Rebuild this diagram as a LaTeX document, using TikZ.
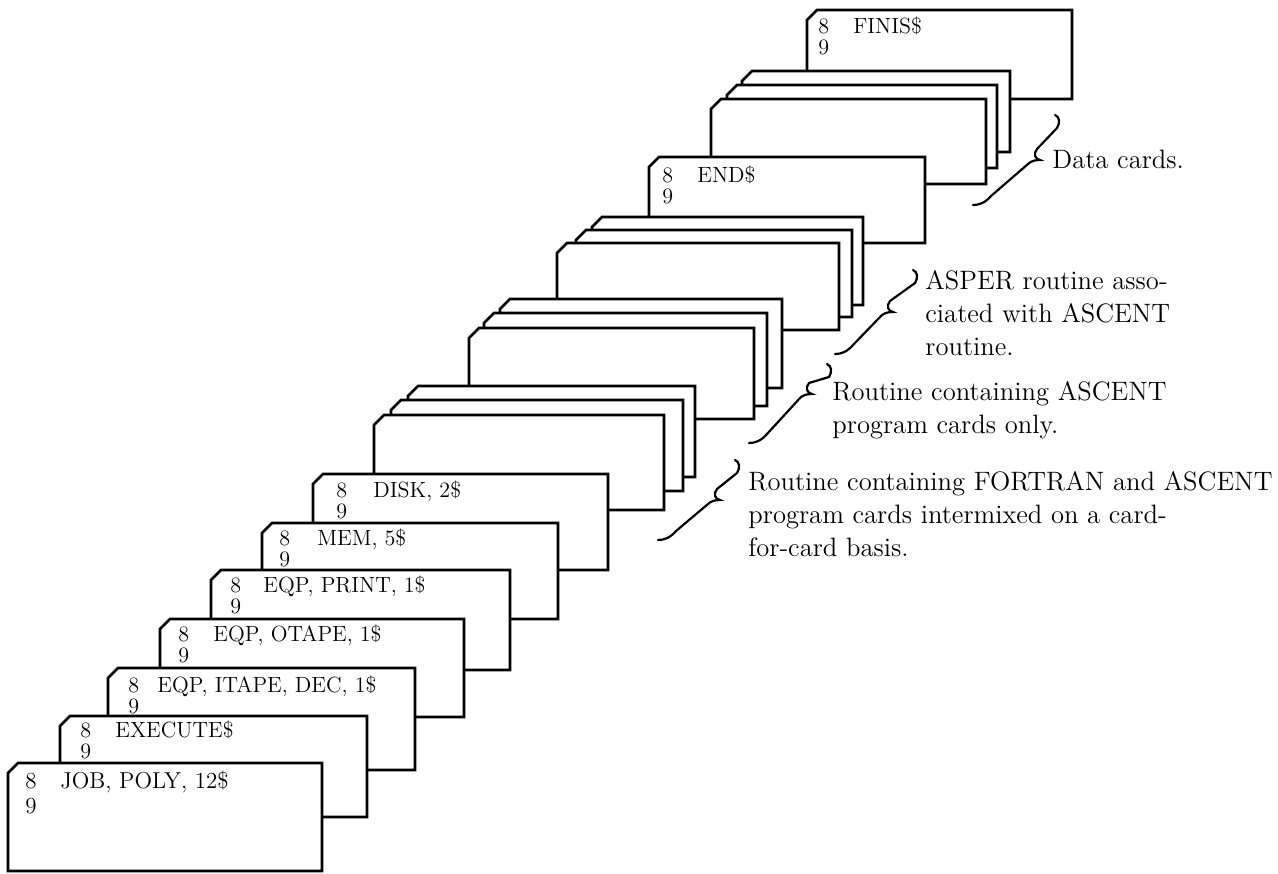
\documentclass[tikz,border=0pt]{standalone}
\usetikzlibrary{calc}
\newcommand{\rows}[1]{\begin{tabular}[t]{@{}l@{}}#1\end{tabular}}

\begin{document}
\begin{tikzpicture}[x=0.5pt,y=-0.5pt,
  card/.style={draw,fill=white,line width=1.3pt},
  punch/.style={font=\fontsize{11}{10.5}\selectfont,inner sep=0pt,anchor=base west},
  note/.style={font=\fontsize{13.3}{16.5}\selectfont,inner sep=0pt,anchor=base west},
  curly/.style={line width=1.1pt,line cap=round}]
\useasboundingbox (0,0) rectangle (1278,873);
% deck, drawn from the back card to the front card
\draw[card] (807,20) -- (817,10) -- (1072,10) -- (1072,99) -- (807,99) -- cycle;
\node[punch] (finisrow) at (818,33) {\rows{8\\9}};
\node[punch] (finis) at (853,33) {FINIS\$};
% data cards
\draw[card] (742,81) -- (752,71) -- (1010,71) -- (1010,152) -- (742,152) -- cycle;
\draw[card] (727,95) -- (737,85) -- (997,85) -- (997,168) -- (727,168) -- cycle;
\draw[card] (711,109) -- (721,99) -- (986,99) -- (986,184) -- (711,184) -- cycle;
\draw[card] (649,167) -- (659,157) -- (925,157) -- (925,243) -- (649,243) -- cycle;
\node[punch] (endrow) at (662,182) {\rows{8\\9}};
\node[punch] (end) at (697,182) {END\$};
% ASPER routine
\draw[card] (592,227) -- (602,217) -- (863,217) -- (863,305) -- (592,305) -- cycle;
\draw[card] (576,240) -- (586,230) -- (852,230) -- (852,317) -- (576,317) -- cycle;
\draw[card] (557,253) -- (567,243) -- (839,243) -- (839,330) -- (557,330) -- cycle;
% ASCENT routine
\draw[card] (500,309) -- (510,299) -- (782,299) -- (782,388) -- (500,388) -- cycle;
\draw[card] (484,323) -- (494,313) -- (767,313) -- (767,406) -- (484,406) -- cycle;
\draw[card] (469,338) -- (479,328) -- (754,328) -- (754,419) -- (469,419) -- cycle;
% FORTRAN and ASCENT routine
\draw[card] (408,396) -- (418,386) -- (695,386) -- (695,477) -- (408,477) -- cycle;
\draw[card] (391,410) -- (401,400) -- (683,400) -- (683,491) -- (391,491) -- cycle;
\draw[card] (374,425) -- (384,415) -- (664,415) -- (664,510) -- (374,510) -- cycle;
% control cards
\draw[card] (313,484) -- (323,474) -- (608,474) -- (608,570) -- (313,570) -- cycle;
\node[punch] (diskrow) at (336,497) {\rows{8\\9}};
\node[punch] (disk) at (373,497) {DISK, 2\$};
\draw[card] (262,533) -- (272,523) -- (558,523) -- (558,619) -- (262,619) -- cycle;
\node[punch] (memrow) at (279,545) {\rows{8\\9}};
\node[punch] (mem) at (317,545) {MEM, 5\$};
\draw[card] (211,580) -- (221,570) -- (510,570) -- (510,670) -- (211,670) -- cycle;
\node[punch] (printrow) at (230,592) {\rows{8\\9}};
\node[punch] (print) at (263,592) {EQP, PRINT, 1\$};
\draw[card] (160,629) -- (170,619) -- (464,619) -- (464,717) -- (160,717) -- cycle;
\node[punch] (otaperow) at (178,641) {\rows{8\\9}};
\node[punch] (otape) at (213,641) {EQP, OTAPE, 1\$};
\draw[card] (108,678) -- (118,668) -- (415,668) -- (415,770) -- (108,770) -- cycle;
\node[punch] (itaperow) at (128,692) {\rows{8\\9}};
\node[punch] (itape) at (157,692) {EQP, ITAPE, DEC, 1\$};
\draw[card] (60,726) -- (70,716) -- (367,716) -- (367,817) -- (60,817) -- cycle;
\node[punch] (executerow) at (80,737) {\rows{8\\9}};
\node[punch] (execute) at (115,737) {EXECUTE\$};
\draw[card] (8,773) -- (18,763) -- (322,763) -- (322,871) -- (8,871) -- cycle;
\node[punch,font=\fontsize{11.5}{12.5}\selectfont] (jobrow) at (25,788) {\rows{8\\9}};
\node[punch,font=\fontsize{11.5}{12.5}\selectfont] (job) at (60,788) {JOB, POLY, 12\$};
% notes
\node[note] (datanote) at (1052,168) {Data cards.};
\node[note] (aspernote) at (925,289) {\rows{ASPER routine asso-\\ciated with ASCENT\\routine.}};
\node[note] (ascentnote) at (832,400) {\rows{Routine containing ASCENT\\program cards only.}};
\node[note] (fortrannote) at (748,490) {\rows{Routine containing FORTRAN and ASCENT\\program cards intermixed on a card-\\for-card basis.}};
% braces
\coordinate (datatop) at (1055,115);
\coordinate (datatip) at (1040,160);
\coordinate (databot) at (973,205);
\coordinate (aspertop) at (913,270);
\coordinate (aspertip) at (893,312);
\coordinate (asperbot) at (835,354);
\coordinate (ascenttop) at (827,364);
\coordinate (ascenttip) at (812,394);
\coordinate (ascentbot) at (749,443);
\coordinate (fortrantop) at (735,460);
\coordinate (fortrantip) at (720,500);
\coordinate (fortranbot) at (658,540);
\draw[curly] (datatop) .. controls ($(datatop)+(5,2)$) and ($(datatop)+(5,8)$) .. ($(datatop)+(2,13)$)
  -- ($(datatip)+(-3,-11)$) .. controls ($(datatip)+(-7,-6)$) and ($(datatip)+(-5,-1)$) .. (datatip)
  .. controls ($(datatip)+(-5,0)$) and ($(datatip)+(-9,1)$) .. ($(datatip)+(-12,4)$)
  -- ($(databot)+(18,-9)$) .. controls ($(databot)+(12,-2)$) and ($(databot)+(6,0)$) .. (databot);
\draw[curly] (aspertop) .. controls ($(aspertop)+(5,2)$) and ($(aspertop)+(5,8)$) .. ($(aspertop)+(2,13)$)
  -- ($(aspertip)+(-3,-11)$) .. controls ($(aspertip)+(-7,-6)$) and ($(aspertip)+(-5,-1)$) .. (aspertip)
  .. controls ($(aspertip)+(-5,0)$) and ($(aspertip)+(-9,1)$) .. ($(aspertip)+(-12,4)$)
  -- ($(asperbot)+(18,-9)$) .. controls ($(asperbot)+(12,-2)$) and ($(asperbot)+(6,0)$) .. (asperbot);
\draw[curly] (ascenttop) .. controls ($(ascenttop)+(5,2)$) and ($(ascenttop)+(5,8)$) .. ($(ascenttop)+(2,13)$)
  -- ($(ascenttip)+(-3,-11)$) .. controls ($(ascenttip)+(-7,-6)$) and ($(ascenttip)+(-5,-1)$) .. (ascenttip)
  .. controls ($(ascenttip)+(-5,0)$) and ($(ascenttip)+(-9,1)$) .. ($(ascenttip)+(-12,4)$)
  -- ($(ascentbot)+(18,-9)$) .. controls ($(ascentbot)+(12,-2)$) and ($(ascentbot)+(6,0)$) .. (ascentbot);
\draw[curly] (fortrantop) .. controls ($(fortrantop)+(5,2)$) and ($(fortrantop)+(5,8)$) .. ($(fortrantop)+(2,13)$)
  -- ($(fortrantip)+(-3,-11)$) .. controls ($(fortrantip)+(-7,-6)$) and ($(fortrantip)+(-5,-1)$) .. (fortrantip)
  .. controls ($(fortrantip)+(-5,0)$) and ($(fortrantip)+(-9,1)$) .. ($(fortrantip)+(-12,4)$)
  -- ($(fortranbot)+(18,-9)$) .. controls ($(fortranbot)+(12,-2)$) and ($(fortranbot)+(6,0)$) .. (fortranbot);
\end{tikzpicture}
\end{document}
